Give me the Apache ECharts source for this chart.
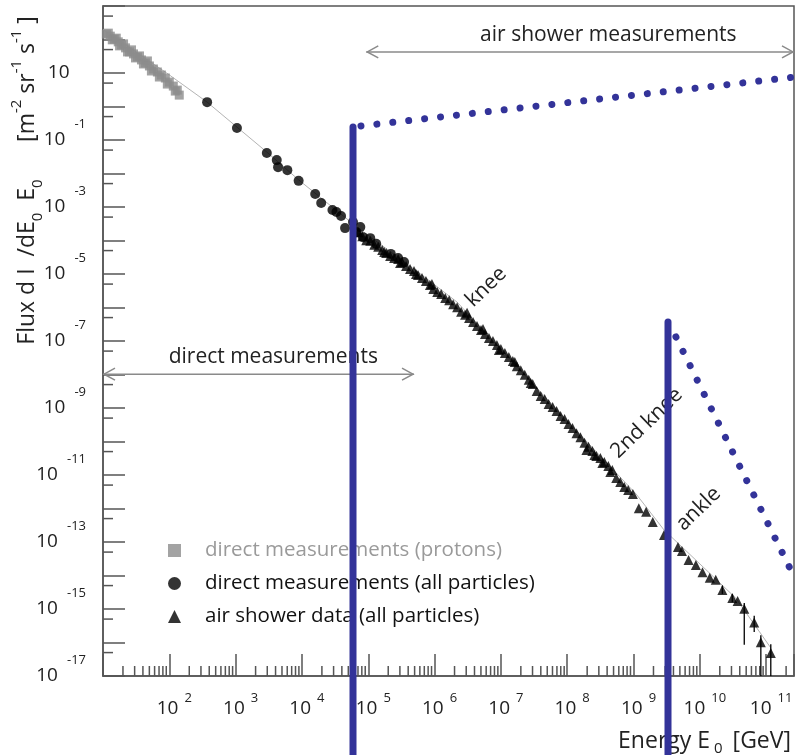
<!DOCTYPE html>
<html><head><meta charset="utf-8">
<script src="https://cdn.jsdelivr.net/npm/echarts@6/dist/echarts.min.js"></script>
<style>html,body{margin:0;padding:0;background:#fff}#c{width:797px;height:755px}</style>
</head><body><div id="c"></div>
<script>
// All values are decimal exponents: lgE = log10(E0 / GeV), lgFlux = log10(flux)
const protonLgE    = [1.05,1.08,1.11,1.14,1.17,1.20,1.23,1.25,1.28,1.31,1.34,1.37,1.40,1.43,1.46,1.49,1.52,1.55,1.58,1.61,1.64,1.67,1.70,1.73,1.76,1.82,1.85,1.88,1.94,1.97,2.00,2.06,2.09,2.12,2.15];
const protonLgFlux = [2.16,2.19,2.10,1.99,2.01,2.04,1.93,1.81,1.84,1.87,1.75,1.63,1.63,1.69,1.57,1.45,1.48,1.51,1.39,1.27,1.30,1.36,1.21,1.06,1.12,1.03,0.88,0.94,0.85,0.67,0.73,0.61,0.46,0.49,0.34];

const directLgE    = [2.57,3.02,3.47,3.62,3.64,3.78,3.95,4.20,4.29,4.46,4.52,4.59,4.65,4.77,4.82,4.88,4.92,5.03,5.12,5.34,5.45,5.54];
const directLgFlux = [0.13,-0.64,-1.39,-1.60,-1.81,-1.90,-2.22,-2.61,-2.88,-3.09,-3.15,-3.27,-3.63,-3.45,-3.75,-3.60,-3.90,-3.93,-4.10,-4.40,-4.52,-4.64];

const showerLgE = [4.85,4.91,4.97,5.03,5.09,5.15,5.21,5.24,5.27,5.33,5.39,5.45,5.48,5.51,5.57,5.63,5.69,5.72,5.75,5.81,5.87,5.93,5.96,5.98,6.04,6.10,6.16,6.22,6.28,6.34,6.40,6.46,6.49,6.52,6.58,6.64,6.70,6.73,6.76,6.82,6.88,6.94,6.97,7.00,7.06,7.12,7.18,7.21,7.24,7.30,7.36,7.42,7.45,7.48,7.54,7.60,7.66,7.72,7.78,7.84,7.90,7.96,8.02,8.08,8.14,8.20,8.26,8.29,8.32,8.38,8.41,8.44,8.50,8.53,8.56,8.62,8.65,8.68,8.74,8.80,8.86,8.92,8.99,9.08,9.19,9.29,9.46,9.67,9.73,9.83,9.94,10.04,10.15,10.24,10.34,10.49,10.57,10.67,10.82,10.92,11.07];
const showerLgFlux = [-3.75,-3.87,-3.99,-4.01,-4.13,-4.19,-4.28,-4.34,-4.37,-4.46,-4.52,-4.55,-4.67,-4.64,-4.76,-4.85,-4.91,-5.00,-5.03,-5.12,-5.21,-5.33,-5.30,-5.45,-5.54,-5.60,-5.72,-5.78,-5.90,-5.99,-6.13,-6.22,-6.16,-6.31,-6.43,-6.55,-6.67,-6.64,-6.79,-6.91,-7.00,-7.12,-7.27,-7.24,-7.36,-7.48,-7.60,-7.63,-7.75,-7.87,-8.01,-8.16,-8.25,-8.28,-8.49,-8.64,-8.73,-8.88,-8.97,-9.09,-9.24,-9.33,-9.48,-9.60,-9.75,-9.87,-10.04,-10.25,-10.16,-10.28,-10.40,-10.43,-10.49,-10.64,-10.61,-10.73,-10.91,-10.85,-11.09,-11.21,-11.36,-11.45,-11.57,-11.99,-12.10,-12.40,-12.79,-13.15,-13.27,-13.54,-13.69,-13.90,-14.07,-14.13,-14.43,-14.67,-14.76,-14.99,-15.40,-15.99,-16.31];

const errLgE    = [10.34,10.49,10.67,10.82,10.92,11.07];
const errLgLow  = [-14.55,-14.80,-16.07,-15.69,-17.00,-17.00];
const errLgHigh = [-14.30,-14.55,-14.82,-15.20,-15.78,-16.05];

const fitLgE    = [1.00,1.96,2.57,3.47,3.95,4.85,5.75,6.34,7.54,8.44,9.04,9.46,9.94,10.54,11.07];
const fitLgFlux = [2.30,1.00,0.13,-1.36,-2.19,-3.63,-4.94,-5.84,-8.40,-10.31,-11.57,-12.64,-13.54,-14.67,-16.16];

// blue overlay lines (lgE, lgFlux)
const blueVert1E = [4.77,4.77],  blueVert1F = [-0.61,-19.5];
const blueDot1E  = [4.89,11.43], blueDot1F  = [-0.58,0.88];
const blueVert2E = [9.52,9.52],  blueVert2F = [-6.43,-19.5];
const blueDot2E  = [9.64,11.43], blueDot2F  = [-6.88,-14.07];

const xTickExps = [2,3,4,5,6,7,8,9,10,11];
const yTickExps = [1,-1,-3,-5,-7,-9,-11,-13,-15,-17];

const legendNames = ['direct measurements (protons)','direct measurements (all particles)','air shower data (all particles)'];

const FONT = '"Open Sans","Noto Sans",sans-serif';
const AX = '#555';
const BLUE = '#333399';
const zip = (a,b) => a.map((v,i)=>[v,b[i]]);

const X_MIN = 1, X_MAX = 11.42, Y_MIN = -17, Y_MAX = 3;

// minor tick positions (axis structure)
const minorTicks = [];
for (let d = 1; d <= 11; d++) for (let k = 2; k <= 9; k++) {
  const v = d + Math.log10(k); if (v < X_MAX) minorTicks.push([v, Y_MIN, 0]);
}
for (let n = 3; n >= -16; n--) minorTicks.push([X_MIN, n - Math.log10(2), 1]);

const chart = echarts.init(document.getElementById('c'), null, {renderer:'canvas', width:797, height:755});

const blueLine = (name, e, f, dotted) => ({
  type:'line', name, data: zip(e,f), symbol:'none', clip:false, silent:true, z:20,
  lineStyle:{color:BLUE, width:7, cap:'round', type: dotted ? [0.01,16] : 'solid'}
});

const option = {
  animation:false,
  backgroundColor:'#fff',
  textStyle:{fontFamily:FONT},
  grid:{left:103, top:6, right:-2, bottom:79, show:true, borderColor:AX, borderWidth:1.5},
  xAxis:{
    type:'value', min:X_MIN, max:X_MAX, interval:1,
    axisLine:{onZero:false, lineStyle:{color:AX, width:1.5}},
    axisTick:{inside:true, length:22, lineStyle:{color:AX, width:1.5}},
    splitLine:{show:false},
    axisLabel:{
      margin:16, padding:[0,0,0,10],
      formatter: v => xTickExps.includes(v) ? '{b|10}{s|' + v + '}' : '',
      rich:{
        b:{fontFamily:FONT, fontSize:19, lineHeight:34, color:'#222'},
        s:{fontFamily:FONT, fontSize:13, lineHeight:13, verticalAlign:'top', padding:[0,0,0,6], color:'#222'}
      }
    }
  },
  yAxis:{
    type:'value', min:Y_MIN, max:Y_MAX, interval:1,
    axisLine:{onZero:false, lineStyle:{color:AX, width:1.5}},
    axisTick:{inside:true, length:22, lineStyle:{color:AX, width:1.5}},
    splitLine:{show:false},
    axisLabel:{
      margin:17,
      formatter: v => yTickExps.includes(v) ? (v === 1 ? '{b|10}{h|1}' : '{b|10}{s|' + v + '}') : '',
      rich:{
        b:{fontFamily:FONT, fontSize:19, lineHeight:44, color:'#222'},
        s:{fontFamily:FONT, fontSize:13, lineHeight:13, verticalAlign:'top', padding:[0,0,0,9], color:'#222'},
        h:{fontFamily:FONT, fontSize:13, lineHeight:13, verticalAlign:'top', padding:[0,0,0,9], color:'transparent'}
      }
    }
  },
  legend:{
    orient:'vertical', left:163, top:535, itemWidth:13, itemHeight:13, itemGap:12,
    selectedMode:false, z:5,
    formatter: name => '{g| }' + name,
    textStyle:{fontFamily:FONT, fontSize:20.5, lineHeight:20, color:'#111',
      rich:{g:{width:19, fontSize:20.5, lineHeight:20}}},
    data:[
      {name:legendNames[0], icon:'rect', textStyle:{color:'#9a9a9a'}},
      {name:legendNames[1], icon:'circle'},
      {name:legendNames[2], icon:'triangle'}
    ]
  },
  series:[
    {type:'line', name:'fit', data:zip(fitLgE, fitLgFlux), symbol:'none', silent:true, z:1,
     lineStyle:{color:'#b4b4b4', width:1}},
    {type:'custom', name:'minorTicks', silent:true, z:2, data:minorTicks,
     renderItem:(params, api) => {
       const p = api.coord([api.value(0), api.value(1)]);
       const vert = api.value(2) === 0;
       return {type:'line', shape: vert ? {x1:p[0], y1:p[1], x2:p[0], y2:p[1]-10} : {x1:p[0], y1:p[1], x2:p[0]+10, y2:p[1]},
               style:{stroke:AX, lineWidth:1.5}};
     }},
    {type:'scatter', name:legendNames[0], data:zip(protonLgE, protonLgFlux), symbol:'rect', symbolSize:9, z:3,
     itemStyle:{color:'#8c8c8c'}},
    {type:'scatter', name:legendNames[1], data:zip(directLgE, directLgFlux), symbol:'circle', symbolSize:10, z:3,
     itemStyle:{color:'#000'}},
    {type:'custom', name:'errors', silent:true, z:3, data: errLgE.map((e,i)=>[e, errLgLow[i], errLgHigh[i]]),
     renderItem:(params, api) => {
       const a = api.coord([api.value(0), api.value(1)]);
       const b = api.coord([api.value(0), api.value(2)]);
       return {type:'line', shape:{x1:a[0], y1:a[1], x2:b[0], y2:b[1]}, style:{stroke:'#000', lineWidth:1.3}};
     }},
    {type:'scatter', name:legendNames[2], data:zip(showerLgE, showerLgFlux), symbol:'triangle', symbolSize:10, z:3,
     itemStyle:{color:'#000'}},
    blueLine('blueVert1', blueVert1E, blueVert1F, false),
    blueLine('blueDot1', blueDot1E, blueDot1F, true),
    blueLine('blueVert2', blueVert2E, blueVert2F, false),
    blueLine('blueDot2', blueDot2E, blueDot2F, true)
  ]
};
chart.setOption(option);

// annotations anchored in data coordinates
const annArrows = [
  {from:[4.97, 1.63], to:[11.42, 1.63]},
  {from:[1.00, -7.99], to:[5.69, -7.99]}
];
const annTexts = [
  {at:[8.62, 2.13], text:'air shower measurements', align:'center', rot:0},
  {at:[1.99, -7.48], text:'direct measurements', align:'left', rot:0},
  {at:[6.78, -5.39], text:'knee', align:'center', rot:44},
  {at:[9.20, -9.45], text:'2nd knee', align:'center', rot:44},
  {at:[9.98, -12.01], text:'ankle', align:'center', rot:44}
];
const px = v => chart.convertToPixel({gridIndex:0}, v);
const graphics = [];
annArrows.forEach(a => {
  const p = px(a.from), q = px(a.to);
  const st = {stroke:'#8a8a8a', lineWidth:1.5, fill:null};
  graphics.push({type:'line', z:6, shape:{x1:p[0], y1:p[1], x2:q[0], y2:q[1]}, style:st});
  graphics.push({type:'polyline', z:6, shape:{points:[[p[0]+12,p[1]-6],[p[0]+1,p[1]],[p[0]+12,p[1]+6]]}, style:st});
  graphics.push({type:'polyline', z:6, shape:{points:[[q[0]-12,q[1]-6],[q[0]-1,q[1]],[q[0]-12,q[1]+6]]}, style:st});
});
annTexts.forEach(t => {
  const p = px(t.at);
  graphics.push({type:'text', z:6, x:p[0], y:p[1], rotation: t.rot*Math.PI/180,
    style:{text:t.text, fontFamily:FONT, fontSize:21, fill:'#222', align:t.align, verticalAlign:'middle'}});
});
// axis titles
graphics.push({type:'text', z:6, x:791, y:741,
  style:{text:'{t|Energy E}{sub|0}{t| [GeV]}', align:'right', verticalAlign:'middle',
    rich:{t:{fontFamily:FONT, fontSize:23, lineHeight:30, fill:'#222'},
          sub:{fontFamily:FONT, fontSize:15, lineHeight:14, verticalAlign:'bottom', padding:[0,4,0,4], fill:'#222'}}}});
const yRich = {
  t:{fontFamily:FONT, fontSize:23, lineHeight:36, fill:'#222'},
  sub:{fontFamily:FONT, fontSize:15, lineHeight:14, verticalAlign:'bottom', fill:'#222'},
  sup:{fontFamily:FONT, fontSize:15, lineHeight:14, verticalAlign:'top', fill:'#222'}
};
graphics.push({type:'text', z:6, x:27, y:262, rotation:Math.PI/2,
  style:{text:'{t|Flux d I  /dE}{sub|0}{t|  E}{sub|0}', align:'center', verticalAlign:'middle', rich:yRich}});
graphics.push({type:'text', z:6, x:27, y:79, rotation:Math.PI/2,
  style:{text:'{t|[m}{sup|-2}{t| sr}{sup|-1}{t| s}{sup|-1}{t| ]}', align:'center', verticalAlign:'middle', rich:yRich}});
chart.setOption({graphic:graphics});
</script>
</body></html>
